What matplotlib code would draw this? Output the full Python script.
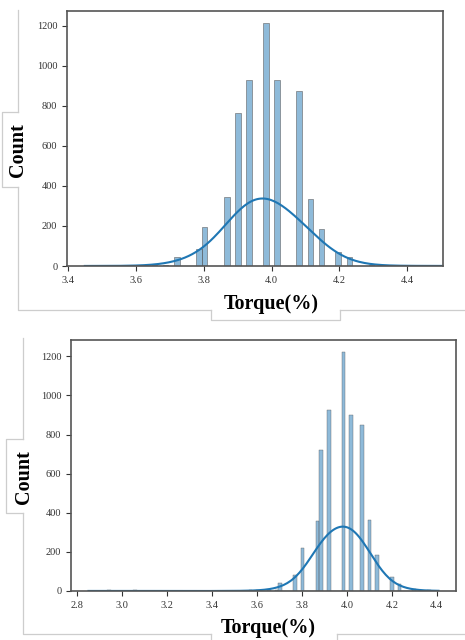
import numpy as np
import matplotlib.pyplot as plt
import seaborn as sns
from matplotlib.lines import Line2D

plt.rcParams['font.family'] = ['Liberation Serif', 'DejaVu Serif']

# upper histogram: torque values and counts per bar
top_val = [3.45, 3.60, 3.65, 3.69, 3.72, 3.785, 3.80, 3.865, 3.90, 3.93, 3.98,
           4.015, 4.08, 4.11, 4.145, 4.195, 4.225, 4.30, 4.33, 4.40, 4.50]
top_cnt = [2, 4, 3, 4, 43, 85, 195, 346, 762, 927, 1213,
           927, 875, 335, 183, 72, 43, 4, 3, 3, 3]

# lower histogram
bot_val = [2.85, 2.943, 3.059, 3.483, 3.565, 3.60, 3.646, 3.683, 3.704, 3.77,
           3.803, 3.869, 3.886, 3.919, 3.985, 4.018, 4.068, 4.101, 4.135,
           4.201, 4.234, 4.30, 4.37, 4.408]
bot_cnt = [2, 3, 3, 2, 3, 4, 4, 6, 43, 80,
           220, 356, 721, 927, 1222, 902, 850, 361, 186,
           72, 37, 8, 4, 2]

top_xticks = [3.4, 3.6, 3.8, 4.0, 4.2, 4.4]
bot_xticks = [2.8, 3.0, 3.2, 3.4, 3.6, 3.8, 4.0, 4.2, 4.4]
yticks = [0, 200, 400, 600, 800, 1000, 1200]

W, H = 465, 640
fig = plt.figure(figsize=(W / 100, H / 100), dpi=100)


def box(l, t, r, b):
    return [l / W, 1 - b / H, (r - l) / W, (b - t) / H]


def seg(xs, ys):
    fig.add_artist(Line2D([x / W for x in xs], [1 - y / H for y in ys],
                          color='#cdcdcd', lw=0.9))


ax1 = fig.add_axes(box(67, 11, 443, 266))
ax2 = fig.add_axes(box(71, 340, 456, 591))

sns.histplot(x=np.repeat(top_val, top_cnt), bins=64, binrange=(3.45, 4.50),
             kde=True, kde_kws=dict(bw_adjust=4.3), alpha=0.5,
             edgecolor='#5a5a5a', line_kws=dict(lw=1.5), ax=ax1)
sns.histplot(x=np.repeat(bot_val, bot_cnt), bins=94, binrange=(2.85, 4.408),
             kde=True, kde_kws=dict(bw_adjust=4.0), alpha=0.5,
             edgecolor='#5a5a5a', line_kws=dict(lw=1.5), ax=ax2)

ax1.set_xlim(3.3975, 4.505)
ax1.set_xticks(top_xticks)
ax2.set_xticks(bot_xticks)
for ax in (ax1, ax2):
    ax.set_xlabel('')
    ax.set_ylabel('')
    ax.set_yticks(yticks)
    ax.tick_params(labelsize=7.5, colors='#333333', width=0.8, length=3.5)
    for s in ax.spines.values():
        s.set_color('#555555')
        s.set_linewidth(1.2)

# axis titles
fig.text(270.8 / W, 1 - 304 / H, 'Torque(%)', ha='center', va='center',
         fontsize=14.5, fontweight='bold')
fig.text(18.5 / W, 1 - 150 / H, 'Count', ha='center', va='center',
         rotation=90, fontsize=14.5, fontweight='bold')
fig.text(268 / W, 1 - 628 / H, 'Torque(%)', ha='center', va='center',
         fontsize=14.5, fontweight='bold')
fig.text(23.5 / W, 1 - 477 / H, 'Count', ha='center', va='center',
         rotation=90, fontsize=14.5, fontweight='bold')

# grey frame lines around each panel
seg([18, 18], [10, 112])
seg([18, 2, 2, 18], [112, 112, 187, 187])
seg([18, 18, 211], [187, 310, 310])
seg([211, 211, 340, 340], [310, 320, 320, 310])
seg([340, 465], [310, 310])

seg([23, 23], [338, 439])
seg([23, 6, 6, 23], [439, 439, 513, 513])
seg([23, 23, 211], [513, 634, 634])
seg([211, 211], [634, 640])
seg([337, 337], [634, 640])
seg([337, 465], [634, 634])

fig.savefig('out.png', dpi=100)
